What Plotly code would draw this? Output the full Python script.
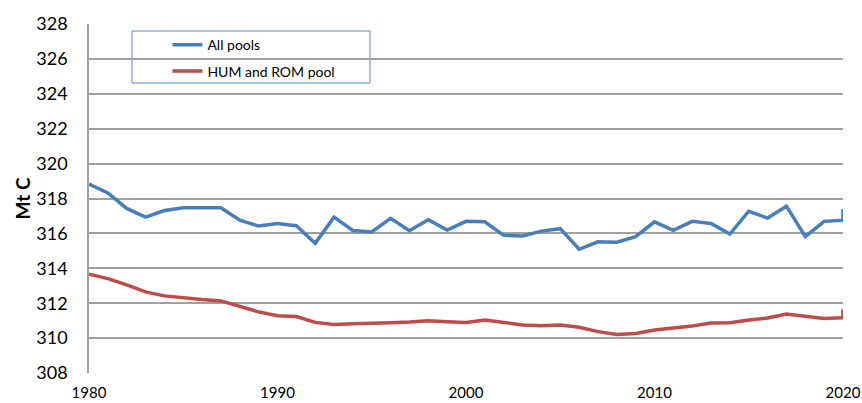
import plotly.graph_objects as go

years = list(range(1980, 2021)) + [2020]
all_pools = [318.82, 318.32, 317.43, 316.93, 317.31, 317.47, 317.47, 317.47, 316.76, 316.42,
             316.57, 316.44, 315.43, 316.93, 316.17, 316.08, 316.86, 316.15, 316.78, 316.19,
             316.69, 316.67, 315.89, 315.85, 316.13, 316.27, 315.09, 315.52, 315.49, 315.81,
             316.66, 316.17, 316.69, 316.57, 315.96, 317.27, 316.88, 317.56, 315.81, 316.69,
             316.76, 317.40]
hum_rom = [313.66, 313.41, 313.05, 312.65, 312.42, 312.29, 312.21, 312.13, 311.81, 311.50,
           311.28, 311.24, 310.90, 310.78, 310.82, 310.83, 310.88, 310.92, 311.00, 310.94,
           310.90, 311.04, 310.87, 310.75, 310.71, 310.75, 310.62, 310.37, 310.21, 310.27,
           310.46, 310.56, 310.69, 310.87, 310.88, 311.04, 311.15, 311.38, 311.23, 311.13,
           311.17, 311.65]
x_ticks = [1980, 1990, 2000, 2010, 2020]
y_ticks = list(range(308, 330, 2))

FONT = "Lato"
fig = go.Figure()
fig.add_trace(go.Scatter(x=years, y=all_pools, mode="lines", name="All pools",
                         legendgroup="a",
                         line=dict(color="#4A7EBB", width=3.5)))
fig.add_trace(go.Scatter(x=years, y=hum_rom, mode="lines", name="HUM and ROM pool",
                         legendgroup="b",
                         line=dict(color="#BE4B48", width=3.5)))

fig.update_layout(
    width=862, height=403,
    margin=dict(l=89, r=19, t=24, b=30),
    paper_bgcolor="white", plot_bgcolor="white",
    font=dict(family=FONT, color="black"),
    showlegend=True,
    legend=dict(x=0.104, y=0.985, xanchor="left", yanchor="top",
                bgcolor="rgba(0,0,0,0)", borderwidth=0,
                font=dict(size=14, family=FONT), tracegroupgap=5,
                traceorder="grouped", itemwidth=30),
    shapes=[dict(type="rect", xref="paper", yref="paper",
                 x0=(132 - 89) / 754, x1=(370 - 89) / 754,
                 y0=(373 - 83) / 349, y1=(373 - 31) / 349,
                 line=dict(color="#5B8AC6", width=1), fillcolor="white", layer="below")],
    xaxis=dict(range=[1980, 2020], tickvals=x_ticks, showgrid=False,
               zeroline=False, showline=False, ticks="", automargin=False,
               tickfont=dict(size=15, family=FONT), ticklabelstandoff=9),
    yaxis=dict(range=[308, 328], tickvals=y_ticks, showgrid=True,
               gridcolor="#A0A0A0", gridwidth=1.5, zeroline=False, automargin=False,
               showline=True, linecolor="#A0A0A0", linewidth=1.5, ticks="",
               tickfont=dict(size=18, family=FONT), ticklabelstandoff=16,
               title=dict(text="<b>Mt C</b>", font=dict(size=19, family=FONT), standoff=1)),
)
fig.write_html("out.html", config={"displayModeBar": False},
               post_script="document.body.style.margin='0';document.body.style.overflow='hidden';")
